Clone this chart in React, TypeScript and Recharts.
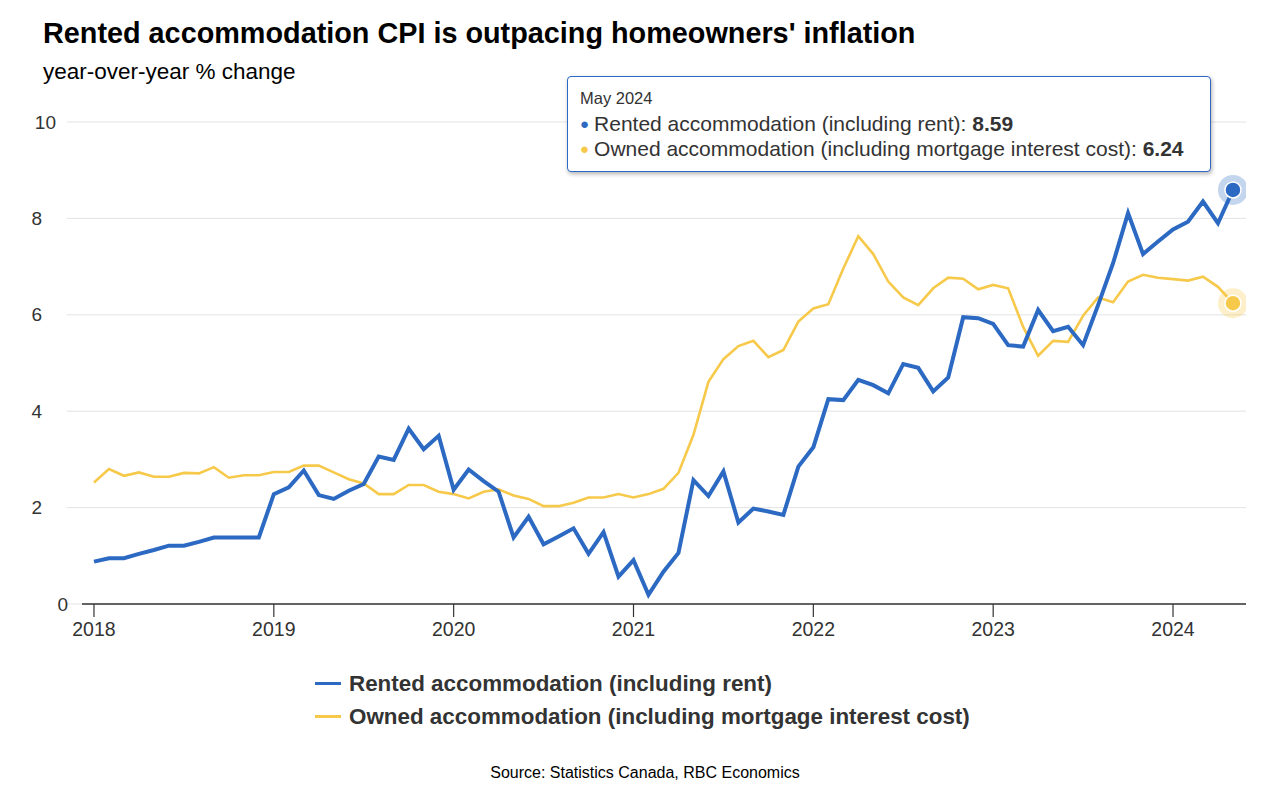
import React from "react";
import { LineChart, Line, XAxis, YAxis, CartesianGrid, Tooltip, ReferenceLine } from "recharts";

const monthNames = ["Jan", "Feb", "Mar", "Apr", "May", "Jun", "Jul", "Aug", "Sep", "Oct", "Nov", "Dec"];
const startYear = 2018;
const yearLabels = ["2018", "2019", "2020", "2021", "2022", "2023", "2024"];
const yTicks = [0, 2, 4, 6, 8, 10];

const rented = [
  0.88, 0.95, 0.95, 1.04, 1.12, 1.21, 1.21, 1.29, 1.38, 1.38, 1.38, 1.38,
  2.28, 2.42, 2.77, 2.26, 2.18, 2.35, 2.49, 3.06, 2.99, 3.64, 3.21, 3.49,
  2.37, 2.79, 2.55, 2.33, 1.38, 1.81, 1.24, 1.4, 1.57, 1.04, 1.49, 0.57,
  0.91, 0.19, 0.67, 1.06, 2.57, 2.24, 2.75, 1.69, 1.98, 1.92, 1.85, 2.85,
  3.25, 4.25, 4.23, 4.65, 4.54, 4.37, 4.98, 4.9, 4.41, 4.7, 5.95, 5.93,
  5.81, 5.37, 5.34, 6.1, 5.66, 5.75, 5.37, 6.2, 7.07, 8.11, 7.26, 7.52,
  7.77, 7.93, 8.35, 7.9, 8.59,
];

const owned = [
  2.52, 2.8, 2.66, 2.73, 2.64, 2.64, 2.72, 2.71, 2.84, 2.62, 2.67, 2.67,
  2.74, 2.74, 2.87, 2.87, 2.73, 2.59, 2.5, 2.28, 2.28, 2.47, 2.47, 2.33,
  2.28, 2.19, 2.33, 2.38, 2.25, 2.18, 2.03, 2.03, 2.1, 2.21, 2.21, 2.28,
  2.21, 2.28, 2.39, 2.72, 3.51, 4.61, 5.08, 5.35, 5.46, 5.12, 5.27, 5.86,
  6.13, 6.22, 6.96, 7.63, 7.26, 6.69, 6.36, 6.2, 6.55, 6.77, 6.75, 6.53,
  6.62, 6.55, 5.75, 5.15, 5.46, 5.44, 5.98, 6.36, 6.26, 6.69, 6.83, 6.77,
  6.74, 6.71, 6.79, 6.58, 6.24,
];

const rentedName = "Rented accommodation (including rent)";
const ownedName = "Owned accommodation (including mortgage interest cost)";

const BLUE = "#2b69c2";
const YELLOW = "#f7c94b";
const FONT = "'Liberation Sans', Arial, Helvetica, sans-serif";

const data = rented.map((r, i) => ({
  i,
  tip: `${monthNames[i % 12]} ${startYear + Math.floor(i / 12)}`,
  rented: r,
  owned: owned[i],
}));

const last = data.length - 1;

const makeDot = (color: string, halo: string) => (props: any) => {
  const { cx, cy, index } = props;
  if (index !== last) return <g key={`d${index}`} />;
  return (
    <g key={`d${index}`}>
      <circle cx={cx} cy={cy} r={15} fill={halo} />
      <circle cx={cx} cy={cy} r={8} fill={color} stroke="#fff" strokeWidth={1.5} />
    </g>
  );
};

const YTick = (props: any) => {
  const { y, payload } = props;
  const v = payload.value;
  const right = v === 0 ? 68 : v === 10 ? 56 : 42;
  return (
    <text x={right} y={y} dy="0.35em" textAnchor="end" fontSize={19} fill="#333" fontFamily={FONT}>
      {v}
    </text>
  );
};

const TipContent = (props: any) => {
  const { payload } = props;
  const row = payload && payload.length ? payload[0].payload : data[last];
  return (
    <div
      style={{
        background: "#fff",
        border: `1.5px solid ${BLUE}`,
        borderRadius: 4,
        boxShadow: "1px 2px 4px rgba(0,0,0,0.3)",
        padding: "12px 14px 10px 12px",
        fontFamily: FONT,
        color: "#333",
        width: 616,
        height: 72,
        boxSizing: "content-box",
      }}
    >
      <div style={{ fontSize: 16.5, lineHeight: "18px", marginBottom: 4 }}>{row.tip}</div>
      <div style={{ fontSize: 21, lineHeight: "25px", whiteSpace: "nowrap" }}>
        <span style={{ color: BLUE, fontSize: 15, marginRight: 5, verticalAlign: "2px" }}>●</span>
        {rentedName}: <b>{row.rented.toFixed(2)}</b>
      </div>
      <div style={{ fontSize: 21, lineHeight: "25px", whiteSpace: "nowrap" }}>
        <span style={{ color: YELLOW, fontSize: 15, marginRight: 5, verticalAlign: "2px" }}>●</span>
        {ownedName}: <b>{row.owned.toFixed(2)}</b>
      </div>
    </div>
  );
};

export default function App() {
  return (
    <div style={{ position: "absolute", left: 0, top: 0, width: 1280, height: 800, background: "#fff", fontFamily: FONT, overflow: "hidden" }}>
      <div style={{ position: "absolute", left: 43, top: 17, fontSize: 28.8, fontWeight: "bold", color: "#000", whiteSpace: "nowrap" }}>
        Rented accommodation CPI is outpacing homeowners' inflation
      </div>
      <div style={{ position: "absolute", left: 43, top: 59, fontSize: 22.5, color: "#000", whiteSpace: "nowrap" }}>
        year-over-year % change
      </div>
      <div style={{ position: "absolute", left: 0, top: 0 }}>
        <LineChart width={1280} height={800} data={data} margin={{ top: 122, right: 34, bottom: 166, left: 7 }}>
          <CartesianGrid vertical={false} stroke="#e3e3e3" strokeWidth={1} />
          <XAxis
            dataKey="i"
            type="number"
            domain={[-1.8, 76.87]}
            ticks={[0, 12, 24, 36, 48, 60, 72]}
            tickFormatter={(v: number) => yearLabels[v / 12]}
            axisLine={false}
            tickLine={{ stroke: "#333", strokeWidth: 1.2 }}
            tickSize={13}
            tickMargin={5}
            tick={{ fontSize: 19.5, fill: "#333", fontFamily: FONT }}
            height={30}
            allowDataOverflow
          />
          <YAxis
            type="number"
            domain={[0, 10]}
            ticks={yTicks}
            axisLine={false}
            tickLine={false}
            width={60}
            tick={<YTick />}
            allowDataOverflow
          />
          <ReferenceLine
            segment={[{ x: -0.8, y: 0 }, { x: 76.87, y: 0 }]}
            stroke="#333"
            strokeWidth={1.3}
            ifOverflow="visible"
          />
          <Line
            type="linear"
            dataKey="owned"
            name={ownedName}
            stroke={YELLOW}
            strokeWidth={2.6}
            dot={makeDot(YELLOW, "rgba(247,201,75,0.3)")}
            activeDot={false}
            isAnimationActive={false}
          />
          <Line
            type="linear"
            dataKey="rented"
            name={rentedName}
            stroke={BLUE}
            strokeWidth={4}
            dot={makeDot(BLUE, "rgba(43,105,194,0.28)")}
            activeDot={false}
            isAnimationActive={false}
          />
          <Tooltip
            defaultIndex={last}
            active
            cursor={false}
            position={{ x: 567, y: 76 }}
            content={<TipContent />}
            isAnimationActive={false}
            wrapperStyle={{ outline: "none" }}
          />
        </LineChart>
      </div>
      <div style={{ position: "absolute", left: 315, top: 667, color: "#333", fontWeight: "bold", fontSize: 22.4 }}>
        {[
          { name: rentedName, color: BLUE },
          { name: ownedName, color: YELLOW },
        ].map((it) => (
          <div key={it.name} style={{ display: "flex", alignItems: "center", height: 33, whiteSpace: "nowrap" }}>
            <span style={{ display: "inline-block", width: 26, height: 3, background: it.color, marginRight: 8 }} />
            {it.name}
          </div>
        ))}
      </div>
      <div style={{ position: "absolute", left: 0, width: 1290, top: 764, textAlign: "center", fontSize: 16, color: "#000" }}>
        Source: Statistics Canada, RBC Economics
      </div>
    </div>
  );
}
